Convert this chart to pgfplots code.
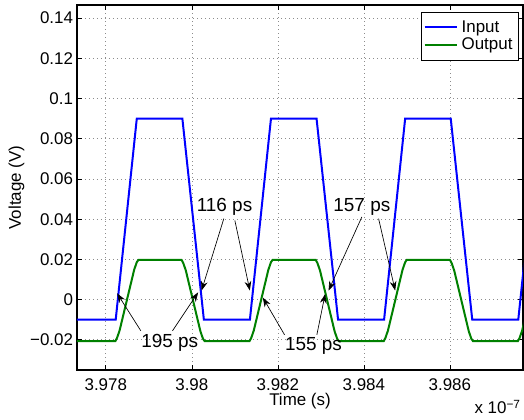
\documentclass[border=0pt]{standalone}
\usepackage{fontspec}
\setmainfont{Liberation Sans}
\usepackage{pgfplots}
\pgfplotsset{compat=1.18}
\usetikzlibrary{arrows.meta}
\definecolor{matblue}{rgb}{0,0,1}
\definecolor{matgreen}{rgb}{0,0.5,0}

% time axis: picoseconds after 3.978e-7 s
\begin{document}
\begin{tikzpicture}[font=\fontsize{12.7}{15}\selectfont]
\path[use as bounding box] (-57.75pt,-37.5pt) rectangle (335.25pt,277.5pt);
\begin{axis}[
  name=ax, at={(0,0)}, anchor=south west,
  scale only axis, width=334.5pt, height=273.75pt,
  xmin=-67, xmax=970, ymin=-0.035, ymax=0.1465,
  xtick={0,200,400,600,800},
  xticklabels={3.978,3.98,3.982,3.984,3.986},
  ytick={-0.02,0,0.02,0.04,0.06,0.08,0.1,0.12,0.14},
  yticklabels={−0.02,0,0.02,0.04,0.06,0.08,0.1,0.12,0.14},
  tick align=inside, major tick length=3.75pt,
  tick style={black, line width=0.5pt},
  grid=major,
  major grid style={black!45, line width=0.5pt, dash pattern=on 0.6pt off 2.4pt},
  axis line style={black, line width=0.8pt},
  xticklabel style={inner sep=0pt, anchor=north, yshift=-6.2pt},
  yticklabel style={inner sep=0pt, anchor=east, xshift=-2.8pt},
  xlabel={Time (s)}, ylabel={Voltage (V)},
  xlabel style={at={(axis description cs:0.5,0)}, anchor=center, yshift=-23pt},
  ylabel style={at={(axis description cs:-0.1357,0.5)}, anchor=center},
  legend style={at={(rel axis cs:1,1)}, anchor=north east, xshift=-3.2pt, yshift=-5.3pt,
    draw=black, fill=white, inner xsep=2pt, inner ysep=4.25pt, row sep=-1.4pt,
    nodes={inner xsep=2.5pt}},
  legend cell align=left,
  legend image code/.code={\draw[#1, line width=1.5pt] (0pt,0pt) -- (24.5pt,0pt);},
]
\addplot[matblue, line width=1.5pt] coordinates {
  (-70,-0.01) (23,-0.01) (72,0.09) (178,0.09) (228,-0.01)
  (335,-0.01) (384,0.09) (490,0.09) (540,-0.01)
  (647,-0.01) (696,0.09) (802,0.09) (852,-0.01)
  (959,-0.01) (1008,0.09)
};
\addlegendentry{Input}
\addplot[matgreen, line width=1.5pt] coordinates {
  (-70,-0.0207)
  (22,-0.0207) (26,-0.0191) (32,-0.0154) (66,0.0149) (72,0.0186) (76,0.0198)
  (176,0.0198) (180,0.0182) (186,0.0145) (220,-0.0158) (226,-0.0195) (230,-0.0207)
  (334,-0.0207) (338,-0.0191) (344,-0.0154) (378,0.0149) (384,0.0186) (388,0.0198)
  (488,0.0198) (492,0.0182) (498,0.0145) (532,-0.0158) (538,-0.0195) (542,-0.0207)
  (646,-0.0207) (650,-0.0191) (656,-0.0154) (690,0.0149) (696,0.0186) (700,0.0198)
  (800,0.0198) (804,0.0182) (810,0.0145) (844,-0.0158) (850,-0.0195) (854,-0.0207)
  (958,-0.0207) (962,-0.0191) (968,-0.0154) (1002,0.0149)
};
\addlegendentry{Output}

% delay annotations
\tikzset{dl/.style={-{Stealth[length=7pt,width=5pt]}, line width=0.5pt, black}}
\draw[dl] (axis cs:81.4,-0.0155) -- (axis cs:26.3,0.0031);
\draw[dl] (axis cs:155.1,-0.0155) -- (axis cs:214.7,0.0036);
\node[font=\fontsize{14.2}{17}\selectfont] at (axis cs:148.8,-0.0215) {195 ps};

\draw[dl] (axis cs:274.4,0.0403) -- (axis cs:222.6,0.0045);
\draw[dl] (axis cs:300,0.0394) -- (axis cs:334.9,0.0045);
\node[font=\fontsize{14.2}{17}\selectfont] at (axis cs:276,0.0461) {116 ps};

\draw[dl] (axis cs:595.3,0.0411) -- (axis cs:517.9,0.0045);
\draw[dl] (axis cs:634.2,0.0403) -- (axis cs:672.8,0.0045);
\node[font=\fontsize{14.2}{17}\selectfont] at (axis cs:595.3,0.0459) {157 ps};

\draw[dl] (axis cs:415.6,-0.0175) -- (axis cs:365.1,0.001);
\draw[dl] (axis cs:490.7,-0.0175) -- (axis cs:510,0.0028);
\node[font=\fontsize{14.2}{17}\selectfont] at (axis cs:483,-0.0230) {155 ps};
\end{axis}
\node[anchor=base east, inner sep=0pt] at ([xshift=-1.5pt,yshift=-33pt]ax.south east) {x 10\textsuperscript{−7}};
\end{tikzpicture}
\end{document}
